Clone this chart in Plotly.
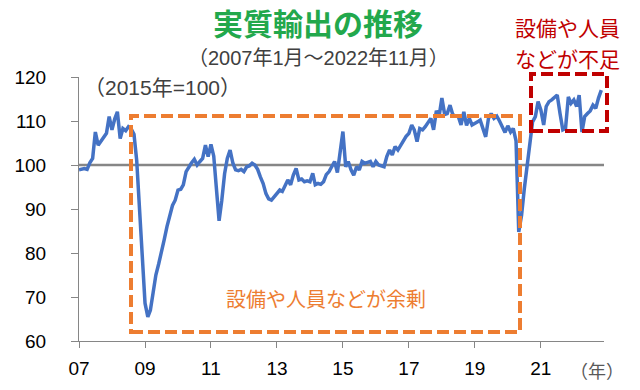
import pandas as pd
import plotly.graph_objects as go

# ---- data (2015 = 100), monthly, 2007-01 .. 2022-11 ----
v2007 = [98.9, 99.0, 99.2, 99.0, 100.5, 101.5, 107.5, 104.5, 105.5, 106.5, 107.2, 111.0]
v2008 = [108.0, 110.5, 112.1, 106.0, 108.3, 107.8, 108.7, 108.2, 107.0, 101.0, 90.0, 78.5]
v2009 = [68.6, 65.5, 67.0, 71.0, 75.0, 77.5, 80.0, 83.0, 86.0, 88.5, 90.8, 92.0]
v2010 = [94.3, 94.5, 95.5, 98.5, 99.6, 100.5, 101.3, 100.0, 100.8, 101.5, 104.5, 101.9]
v2011 = [104.7, 102.0, 95.0, 87.3, 92.0, 98.0, 101.5, 103.4, 100.4, 98.9, 98.7, 99.0]
v2012 = [98.5, 99.6, 99.8, 100.4, 100.0, 99.0, 97.3, 95.8, 93.5, 92.3, 92.0, 92.8]
v2013 = [93.5, 94.3, 94.0, 95.3, 96.6, 95.5, 97.7, 99.2, 96.6, 96.8, 96.2, 96.4]
v2014 = [96.2, 98.1, 95.5, 95.8, 95.6, 96.2, 97.8, 98.5, 99.6, 100.8, 98.3, 103.4]
v2015 = [107.6, 99.6, 100.8, 98.9, 97.7, 99.6, 98.9, 100.8, 100.4, 100.6, 100.8, 99.6]
v2016 = [100.8, 100.0, 99.8, 99.6, 101.9, 103.4, 102.3, 104.2, 103.4, 104.5, 105.7, 106.5]
v2017 = [107.2, 109.1, 108.0, 105.3, 108.3, 108.0, 108.7, 109.5, 110.6, 108.0, 112.3, 111.1]
v2018 = [115.2, 111.5, 111.7, 113.6, 111.5, 111.1, 111.1, 109.1, 112.1, 109.0, 110.6, 109.1]
v2019 = [109.4, 109.8, 110.2, 108.3, 106.4, 110.6, 111.7, 110.6, 111.1, 110.0, 108.5, 107.4]
v2020 = [108.9, 107.5, 108.3, 105.5, 84.8, 88.5, 94.5, 99.8, 105.5, 109.8, 111.0, 114.4]
v2021 = [112.5, 109.1, 113.3, 114.4, 114.8, 115.3, 115.9, 111.7, 108.0, 108.3, 115.5, 114.0]
v2022 = [114.8, 113.3, 115.9, 107.5, 111.0, 111.7, 112.3, 113.6, 112.9, 115.2, 117.0]

values = (v2007 + v2008 + v2009 + v2010 + v2011 + v2012 + v2013 + v2014 +
          v2015 + v2016 + v2017 + v2018 + v2019 + v2020 + v2021 + v2022)
months = pd.date_range("2007-01-01", periods=len(values), freq="MS")

tick_dates = ["2007-01-01", "2009-01-01", "2011-01-01", "2013-01-01",
              "2015-01-01", "2017-01-01", "2019-01-01", "2021-01-01"]
tick_labels = ["07", "09", "11", "13", "15", "17", "19", "21"]
y_ticks = [60, 70, 80, 90, 100, 110, 120]

BLUE = "#4472C4"
ORANGE = "#ED7D31"
RED = "#C00000"
GREEN = "#22A84C"
JP = "Noto Sans CJK JP"
MIX = "Liberation Sans, Noto Sans CJK JP"
NUM = "Liberation Sans, Arial"

W, H = 640, 390
# plot area in window pixels
L, R, T, B = 79, 604, 77, 341

def px(x):
    return (x - L) / (R - L)

def py(y):
    return (B - y) / (B - T)

fig = go.Figure()
fig.add_trace(go.Scatter(x=months, y=values, mode="lines",
                         line=dict(color=BLUE, width=3.5),
                         hoverinfo="skip", showlegend=False))

shapes = [
    dict(type="line", xref="paper", yref="y", x0=0, x1=1, y0=100, y1=100,
         line=dict(color="#868686", width=2.5), layer="below"),
    dict(type="rect", xref="paper", yref="paper",
         x0=px(131), x1=px(520), y0=py(332), y1=py(116),
         line=dict(color=ORANGE, width=4, dash="12px,5px"), layer="above"),
    dict(type="rect", xref="paper", yref="paper",
         x0=px(531), x1=px(607), y0=py(131), y1=py(74),
         line=dict(color=RED, width=4, dash="12px,5px"), layer="above"),
]

def ann(text, x, y, size, color, family, anchor="center"):
    return dict(text=text, x=px(x), y=py(y), xref="paper", yref="paper",
                showarrow=False, font=dict(family=family, size=size, color=color),
                xanchor=anchor, yanchor="middle")

annotations = [
    ann("<b>実質輸出の推移</b>", 318, 22, 30, GREEN, JP),
    ann("（2007年1月～2022年11月）", 318, 58, 20, "#404040", MIX),
    ann("（2015年=100）", 82, 88, 21, "#404040", MIX, "left"),
    ann("設備や人員", 567, 27, 21, RED, JP),
    ann("などが不足", 567, 58, 21, RED, JP),
    ann("設備や人員などが余剰", 326, 298, 20, ORANGE, JP),
    ann("（年）", 597, 370, 18, "#595959", JP),
]

fig.update_layout(
    width=W, height=H,
    margin=dict(l=L, r=W - R, t=T, b=H - B, pad=0, autoexpand=False),
    plot_bgcolor="white", paper_bgcolor="white",
    shapes=shapes, annotations=annotations, showlegend=False,
    hovermode=False,
)
fig.update_xaxes(range=["2007-01-01", "2022-12-01"], tickvals=tick_dates, ticktext=tick_labels,
                 showgrid=False, zeroline=False, showline=True, linecolor="#868686", linewidth=1,
                 ticks="outside", ticklen=6, tickcolor="#868686", automargin=False,
                 tickfont=dict(family=NUM, size=19, color="black"), ticklabelstandoff=4)
fig.update_yaxes(range=[60, 120], tickvals=y_ticks,
                 showgrid=False, zeroline=False, showline=True, linecolor="#868686", linewidth=1,
                 ticks="outside", ticklen=7, tickcolor="#868686", automargin=False,
                 tickfont=dict(family=NUM, size=19, color="black"), ticklabelstandoff=21)

fig.write_html("out.html", config={"displayModeBar": False},
               post_script="document.body.style.margin='0';")
